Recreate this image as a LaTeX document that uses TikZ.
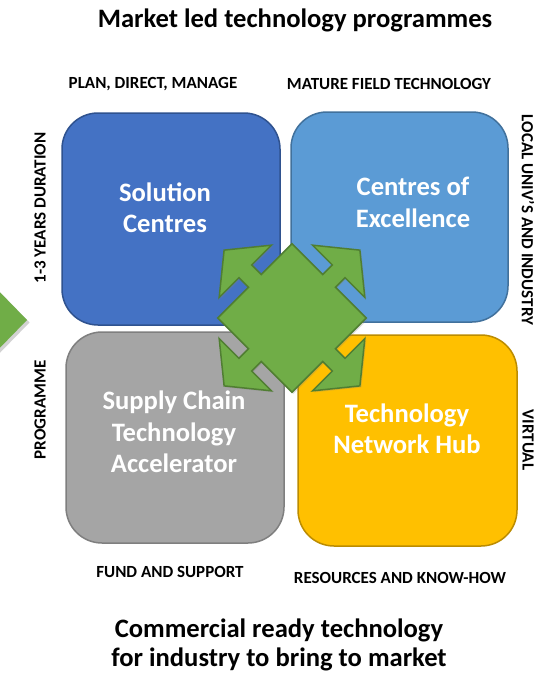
\documentclass[tikz,border=0pt]{standalone}
\usepackage{fontspec}
\setmainfont{Carlito}
\usetikzlibrary{shadows}
\definecolor{cBlue}{HTML}{4472C4}
\definecolor{cBlueD}{HTML}{2F528F}
\definecolor{cLBlue}{HTML}{5B9BD5}
\definecolor{cLBlueD}{HTML}{41719C}
\definecolor{cGray}{HTML}{A5A5A5}
\definecolor{cGrayD}{HTML}{7F7F7F}
\definecolor{cYel}{HTML}{FFC000}
\definecolor{cYelD}{HTML}{BC8C00}
\definecolor{cGreen}{HTML}{70AD47}
\definecolor{cGreenD}{HTML}{507E32}
\begin{document}
\begin{tikzpicture}[x=1pt,y=-1pt,
  quad/.style={rounded corners=36pt, line width=1.5pt, inner sep=0pt, anchor=center},
  big/.style={font=\fontsize{26.6}{31.5}\selectfont\bfseries, align=center, inner sep=0pt},
  bottomtext/.style={font=\fontsize{26.6}{29.5}\selectfont\bfseries, align=center, inner sep=0pt},
  boxtext/.style={big, text=white},
  small/.style={font=\fontsize{17}{20}\selectfont\bfseries, inner sep=0pt},
  greenshape/.style={fill=cGreen, draw=cGreenD, line width=1.5pt, line join=miter,
    drop shadow={opacity=0.25, shadow xshift=1.5pt, shadow yshift=-1.5pt}},
]
\useasboundingbox (0,0) rectangle (549,673);
\fill[white] (0,0) rectangle (549,673);

% left arrow fragment
\path[fill=cGreen, drop shadow={opacity=0.35, shadow xshift=2.5pt, shadow yshift=-2.5pt}]
  (-12,280) -- (27,320) -- (-12,360) -- cycle;

% quadrant boxes
\node[quad, fill=cBlue, draw=cBlueD, minimum width=218pt, minimum height=212pt] (sol) at (171,219) {};
\node[quad, fill=cLBlue, draw=cLBlueD, minimum width=217pt, minimum height=210pt] (exc) at (399.5,217) {};
\node[quad, fill=cGray, draw=cGrayD, minimum width=218pt, minimum height=211pt] (sup) at (175,437.5) {};
\node[quad, fill=cYel, draw=cYelD, minimum width=219pt, minimum height=211pt] (hub) at (407.5,440.5) {};

% central four-way arrow
\coordinate (centre) at (292,318);
\pgfmathsetmacro{\qs}{52.5}
\pgfmathsetmacro{\qw}{9}
\pgfmathsetmacro{\qh}{66}
\pgfmathsetmacro{\qH}{37}
\pgfmathsetmacro{\qT}{96}
\path[greenshape, shift={(centre)}, rotate=45]
  (\qs,-\qs) -- (\qs,-\qw) -- (\qh,-\qw) -- (\qh,-\qH) -- (\qT,0) -- (\qh,\qH) -- (\qh,\qw) -- (\qs,\qw)
  -- (\qs,\qs) -- (\qw,\qs) -- (\qw,\qh) -- (\qH,\qh) -- (0,\qT) -- (-\qH,\qh) -- (-\qw,\qh) -- (-\qw,\qs)
  -- (-\qs,\qs) -- (-\qs,\qw) -- (-\qh,\qw) -- (-\qh,\qH) -- (-\qT,0) -- (-\qh,-\qH) -- (-\qh,-\qw) -- (-\qs,-\qw)
  -- (-\qs,-\qs) -- (-\qw,-\qs) -- (-\qw,-\qh) -- (-\qH,-\qh) -- (0,-\qT) -- (\qH,-\qh) -- (\qw,-\qh) -- (\qw,-\qs)
  -- cycle;

% box texts
\node[boxtext] (solT) at (165,207.5) {Solution\\Centres};
\node[boxtext] (excT) at (413,202.5) {Centres of\\Excellence};
\node[boxtext] (supT) at (174,432) {Supply Chain\\Technology\\Accelerator};
\node[boxtext] (hubT) at (407,429) {Technology\\Network Hub};

% titles
\node[big] (title) at (295,20) {Market led technology programmes};
\node[bottomtext] (bottom) at (279,645) {Commercial ready technology\\for industry to bring to market};

% side labels
\node[small] (plan) at (153,84) {PLAN, DIRECT, MANAGE};
\node[small] (mature) at (389,84) {MATURE FIELD TECHNOLOGY};
\node[small] (fund) at (170,572) {FUND AND SUPPORT};
\node[small] (res) at (400,578) {RESOURCES AND KNOW-HOW};
\node[small, rotate=90] (dur) at (40,208) {1-3 YEARS DURATION};
\node[small, rotate=90] (prog) at (40,410) {PROGRAMME};
\node[small, rotate=-90] (local) at (528,220) {LOCAL UNIV’S AND INDUSTRY};
\node[small, rotate=-90] (virt) at (528,440) {VIRTUAL};
\end{tikzpicture}
\end{document}
